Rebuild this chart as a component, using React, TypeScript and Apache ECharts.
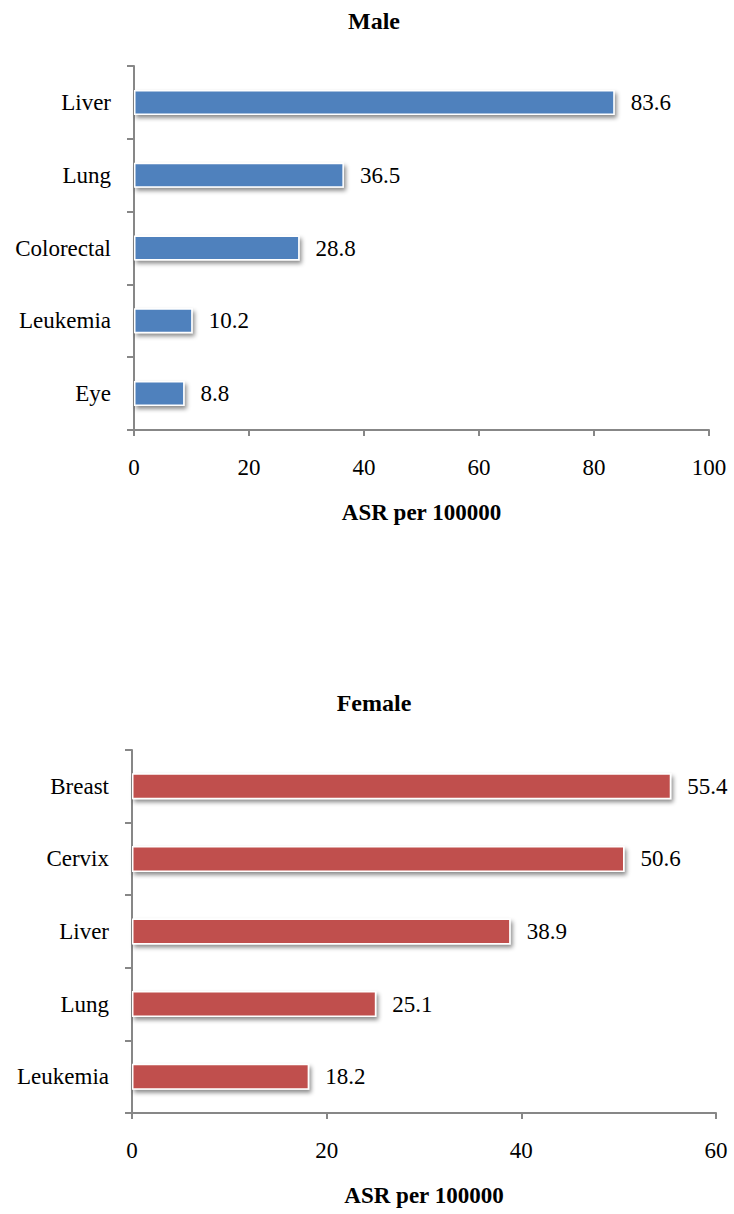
import React, { useEffect, useRef } from "react";
import * as echarts from "echarts";

const maleCategories = ["Liver", "Lung", "Colorectal", "Leukemia", "Eye"];
const maleValues = [83.6, 36.5, 28.8, 10.2, 8.8];
const femaleCategories = ["Breast", "Cervix", "Liver", "Lung", "Leukemia"];
const femaleValues = [55.4, 50.6, 38.9, 25.1, 18.2];
const maleTicks = { min: 0, max: 100, interval: 20 };
const femaleTicks = { min: 0, max: 60, interval: 20 };
const axisName = "ASR per 100000";
const titles = ["Male", "Female"];

const FONT = "'Liberation Serif', 'Times New Roman', serif";
const AXIS_COLOR = "#878787";
const FS = 23;
const TFS = 24;

export default function App() {
  const ref = useRef<HTMLDivElement>(null);
  useEffect(() => {
    if (!ref.current) return;
    const chart = echarts.init(ref.current, undefined, { renderer: "svg" });
    const axisLine = { show: true, lineStyle: { color: AXIS_COLOR, width: 2 } };
    const axisTick = { show: true, length: 7, lineStyle: { color: AXIS_COLOR, width: 2 } };
    const mkX = (idx: number, t: { min: number; max: number; interval: number }) => ({
      type: "value",
      gridIndex: idx,
      min: t.min,
      max: t.max,
      interval: t.interval,
      splitLine: { show: false },
      axisLine,
      axisTick: { ...axisTick, length: 6 },
      axisLabel: { color: "#000", fontFamily: FONT, fontSize: FS, margin: 26 },
      name: axisName,
      nameLocation: "middle",
      nameGap: 71,
      nameTextStyle: { color: "#000", fontFamily: FONT, fontSize: FS, fontWeight: "bold" },
    });
    const mkY = (idx: number, cats: string[]) => ({
      type: "category",
      gridIndex: idx,
      data: cats,
      inverse: true,
      axisLine,
      axisTick,
      axisLabel: { color: "#000", fontFamily: FONT, fontSize: FS, margin: 23 },
    });
    const mkSeries = (idx: number, vals: number[], color: string, w: number) => ({
      type: "bar",
      xAxisIndex: idx,
      yAxisIndex: idx,
      data: vals,
      barWidth: w,
      itemStyle: {
        color,
        borderColor: "#fff",
        borderWidth: 1.5,
        shadowColor: "rgba(0,0,0,0.45)",
        shadowBlur: 4,
        shadowOffsetX: 2,
        shadowOffsetY: 3,
      },
      label: {
        show: true,
        position: "right",
        distance: 16,
        color: "#000",
        fontFamily: FONT,
        fontSize: FS,
        formatter: (p: any) => p.value.toFixed(1),
      },
    });
    chart.setOption({
      animation: false,
      textStyle: { fontFamily: FONT },
      title: [
        {
          text: titles[0],
          left: 369,
          top: 4,
          textAlign: "center",
          textStyle: { fontFamily: FONT, fontSize: TFS, fontWeight: "bold", color: "#000" },
        },
        {
          text: titles[1],
          left: 369,
          top: 686,
          textAlign: "center",
          textStyle: { fontFamily: FONT, fontSize: TFS, fontWeight: "bold", color: "#000" },
        },
      ],
      grid: [
        { left: 134, right: 25, top: 66, height: 364, containLabel: false },
        { left: 132, right: 18, top: 750, height: 363, containLabel: false },
      ],
      xAxis: [mkX(0, maleTicks), mkX(1, femaleTicks)],
      yAxis: [mkY(0, maleCategories), mkY(1, femaleCategories)],
      series: [
        mkSeries(0, maleValues, "#4F81BD", 25),
        mkSeries(1, femaleValues, "#C0504D", 26),
      ],
    });
    return () => chart.dispose();
  }, []);
  return (
    <div
      ref={ref}
      style={{ position: "absolute", left: 0, top: 0, width: 734, height: 1214, background: "#fff" }}
    />
  );
}
